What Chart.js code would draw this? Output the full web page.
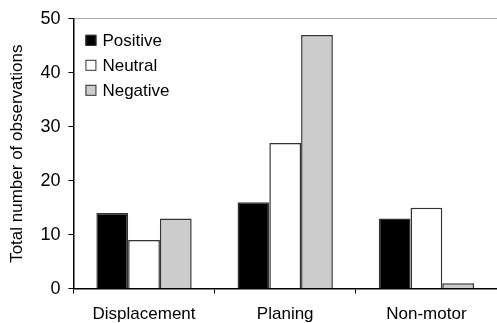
<!DOCTYPE html>
<html>
<head>
<meta charset="utf-8">
<script src="https://cdn.jsdelivr.net/npm/chart.js@4"></script>
<style>
  body { margin: 0; background: #fff; }
  #wrap { width: 497px; height: 323px; }
</style>
</head>
<body>
<div id="wrap"><canvas id="myChart" width="497" height="323"></canvas></div>
<script>
const categories = ["Displacement", "Planing", "Non-motor"];
const seriesNames = ["Positive", "Neutral", "Negative"];
const positiveValues = [14, 16, 13];
const neutralValues = [9, 27, 15];
const negativeValues = [13, 47, 1];
const yTicks = [0, 10, 20, 30, 40, 50];

const fills = ["#000000", "#ffffff", "#cccccc"];
const FONT = "'Liberation Sans', Arial, sans-serif";

/*------------------------------------------
Leyenda dibujada dentro del area del grafico
-------------------------------------------*/
const insideLegend = {
  id: "insideLegend",
  afterDraw(chart) {
    const ctx = chart.ctx;
    const area = chart.chartArea;
    ctx.save();
    ctx.font = "17px " + FONT;
    ctx.textBaseline = "middle";
    chart.data.datasets.forEach((ds, i) => {
      const x = area.left + 12;
      const y = area.top + 21.5 + i * 25;
      ctx.fillStyle = ds.backgroundColor;
      ctx.fillRect(x, y - 5.5, 11, 11);
      ctx.strokeStyle = "#333";
      ctx.lineWidth = 1;
      ctx.strokeRect(x + 0.5, y - 5, 10, 10);
      ctx.fillStyle = "#000";
      ctx.fillText(ds.label, x + 17, y + 1);
    });
    ctx.restore();
  },
};

const datasets = [positiveValues, neutralValues, negativeValues].map((vals, i) => ({
  label: seriesNames[i],
  data: vals,
  backgroundColor: fills[i],
  borderColor: "#333",
  borderWidth: 1.5,
  categoryPercentage: 0.675,
  barPercentage: 1.0,
}));

const myChart = new Chart(document.getElementById("myChart").getContext("2d"), {
  type: "bar",
  data: { labels: categories, datasets: datasets },
  plugins: [insideLegend],
  options: {
    responsive: false,
    animation: false,
    layout: { padding: { top: 6, right: -3, bottom: -13, left: 7 } },
    plugins: {
      legend: { display: false },
      tooltip: { enabled: false },
    },
    scales: {
      x: {
        grid: {
          offset: true,
          drawOnChartArea: false,
          drawTicks: true,
          tickLength: 5,
          tickColor: "#000",
        },
        border: { color: "#000", width: 1.5 },
        ticks: { color: "#000", font: { size: 17, family: FONT }, padding: 11 },
      },
      y: {
        min: 0,
        max: 50,
        afterBuildTicks: (axis) => {
          axis.ticks = yTicks.map((v) => ({ value: v }));
        },
        grid: {
          color: (c) => (c.tick && c.tick.value === 50 ? "#aaaaaa" : "rgba(0,0,0,0)"),
          tickColor: "#000",
          tickLength: 5,
        },
        border: { color: "#000", width: 1.5 },
        ticks: { color: "#000", font: { size: 18, family: FONT }, padding: 8 },
        title: {
          display: true,
          text: "Total number of observations",
          color: "#000",
          font: { size: 17, family: FONT },
          padding: { top: 0, bottom: 5 },
        },
      },
    },
  },
});
</script>
</body>
</html>
